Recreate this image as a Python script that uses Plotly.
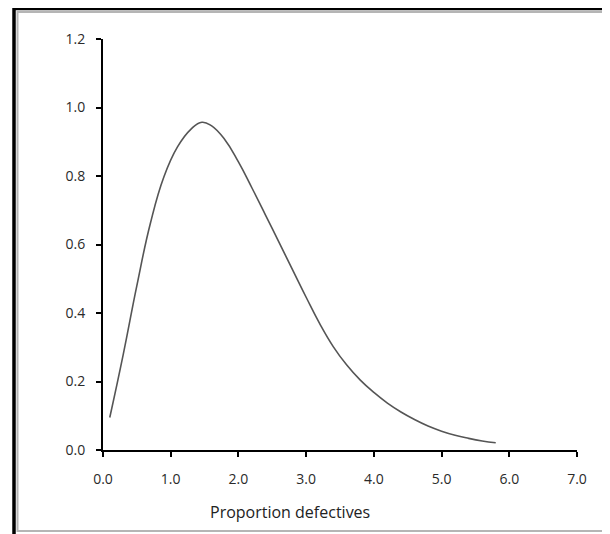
import plotly.graph_objects as go

# Data
x_vals = [0.1, 0.3, 0.5, 0.7, 0.9, 1.1, 1.3, 1.46, 1.6, 1.8, 2.0, 2.2, 2.4, 2.6, 2.8,
          3.0, 3.2, 3.4, 3.6, 3.8, 4.0, 4.2, 4.4, 4.6, 4.8, 5.0, 5.2, 5.4, 5.6, 5.8]
y_vals = [0.095, 0.28, 0.48, 0.662, 0.798, 0.885, 0.937, 0.957, 0.947, 0.906, 0.841, 0.765,
          0.686, 0.606, 0.526, 0.446, 0.369, 0.302, 0.248, 0.204, 0.168, 0.137, 0.111,
          0.089, 0.070, 0.055, 0.043, 0.034, 0.0265, 0.021]
x_ticks = [0, 1, 2, 3, 4, 5, 6, 7]
x_tick_labels = ["0.0", "1.0", "2.0", "3.0", "4.0", "5.0", "6.0", "7.0"]
y_ticks = [0, 0.2, 0.4, 0.6, 0.8, 1.0, 1.2]
y_tick_labels = ["0.0", "0.2", "0.4", "0.6", "0.8", "1.0", "1.2"]
x_title = "Proportion defectives"

FONT = "Open Sans"

fig = go.Figure()
fig.add_trace(go.Scatter(x=x_vals, y=y_vals, mode="lines",
                         line=dict(color="#555555", width=1.6, shape="spline", smoothing=1.3),
                         showlegend=False, hoverinfo="skip"))

# The page body has an 8px margin, so the figure is drawn 8px smaller
OFF = 8
W, H = 610 - OFF, 534 - OFF
L, R, T, B = 103 - OFF, 33, 39 - OFF, 84
pw, ph = W - L - R, H - T - B

def px(xp):
    return (xp - OFF - L) / pw

def py(yp):
    return (H - B - (yp - OFF)) / ph

fig.update_layout(
    width=W, height=H,
    margin=dict(l=L, r=R, t=T, b=B),
    paper_bgcolor="white", plot_bgcolor="white",
    font=dict(family=FONT, size=14, color="#2a2a2a"),
    xaxis=dict(range=[0, 7], tickvals=x_ticks, ticktext=x_tick_labels,
               showgrid=False, zeroline=False, showline=True, linecolor="black",
               linewidth=2, ticks="outside", ticklen=5, tickwidth=2, tickcolor="black",
               ticklabelstandoff=10, fixedrange=True),
    yaxis=dict(range=[0, 1.2], tickvals=y_ticks, ticktext=y_tick_labels,
               showgrid=False, zeroline=False, showline=True, linecolor="black",
               linewidth=2, ticks="outside", ticklen=5, tickwidth=2, tickcolor="black",
               ticklabelstandoff=8, fixedrange=True),
    annotations=[dict(text=x_title, xref="paper", yref="paper", x=px(290), y=py(512),
                      xanchor="center", yanchor="middle", showarrow=False,
                      font=dict(family=FONT, size=16, color="#222222"))],
    shapes=[
        dict(type="rect", xref="paper", yref="paper", x0=px(17.5), x1=px(605.5),
             y0=py(531), y1=py(12), line=dict(color="#b5b5b5", width=2), layer="below"),
        dict(type="rect", xref="paper", yref="paper", x0=px(14), x1=px(608.5),
             y0=py(537), y1=py(8.5), line=dict(color="black", width=3.5), layer="below"),
    ],
)

fig.write_html("out.html")
